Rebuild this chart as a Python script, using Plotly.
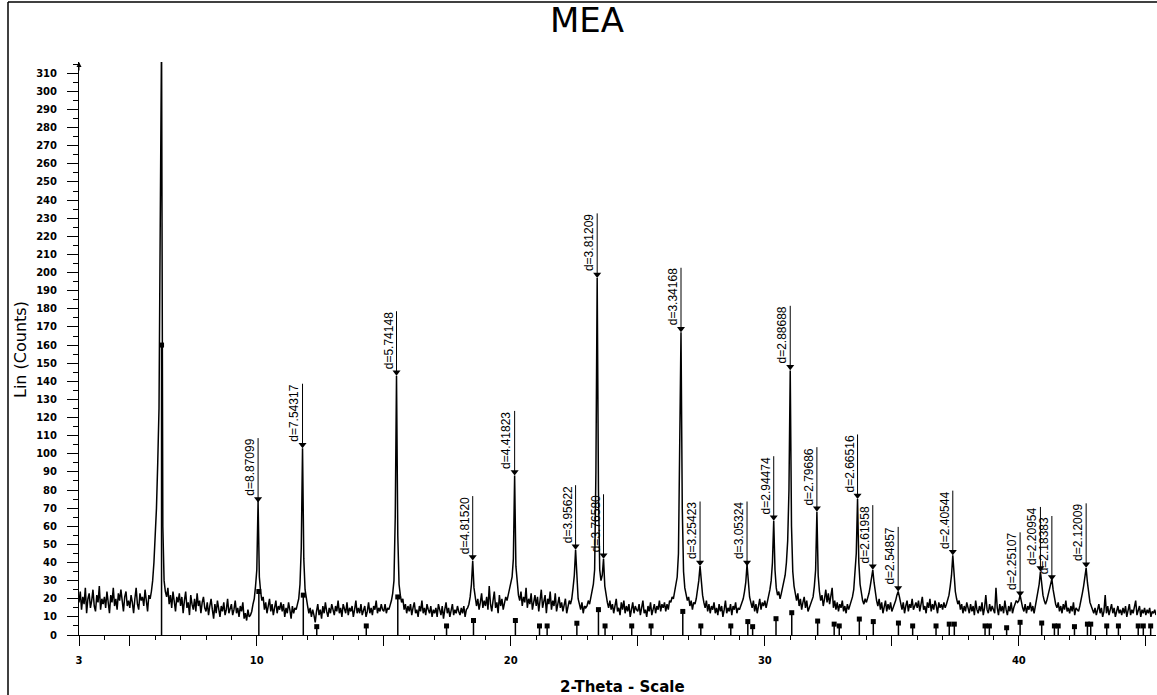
import plotly.graph_objects as go

# ---------------- data ----------------
scan_start_deg = 3.0
scan_step_deg = 0.05
counts = [
    18, 24, 14, 21, 17, 26, 12, 20, 23, 15, 19, 25, 16, 13, 22, 18, 27, 14, 20, 17,   # 3
    21, 15, 24, 19, 12, 22, 18, 26, 16, 20, 14, 23, 19, 25, 17, 13, 21, 24, 16, 19,   # 4
    15, 22, 18, 12, 20, 26, 17, 14, 23, 19, 21, 16, 25, 18, 13, 22, 20, 24, 30, 40,   # 5
    52, 70, 95, 125, 230, 330, 60, 30, 24, 21, 26, 17, 22, 15, 24, 19, 13, 21, 18, 23,  # 6
    16, 21, 12, 19, 24, 15, 18, 11, 22, 17, 14, 20, 13, 23, 16, 19, 12, 18, 21, 15,   # 7
    13, 18, 11, 16, 20, 14, 9, 17, 12, 19, 15, 10, 16, 13, 18, 11, 14, 20, 12, 15,    # 8
    17, 11, 14, 19, 12, 15, 10, 16, 13, 18, 9, 12, 8, 14, 10, 11, 13, 17, 20, 27,     # 9
    36, 74, 32, 24, 19, 21, 14, 18, 12, 16, 20, 13, 17, 11, 15, 19, 12, 16, 14, 18,   # 10
    13, 17, 10, 15, 12, 18, 14, 9, 16, 12, 15, 14, 17, 20, 28, 48, 103, 42, 25, 19,   # 11
    16, 12, 15, 10, 14, 11, 7, 13, 17, 11, 14, 9, 16, 12, 18, 13, 10, 15, 12, 17,     # 12
    14, 11, 16, 13, 19, 12, 15, 10, 17, 14, 12, 18, 11, 15, 13, 16, 10, 14, 19, 12,   # 13
    15, 12, 17, 11, 14, 16, 10, 13, 18, 12, 15, 11, 16, 14, 19, 12, 15, 13, 17, 14,   # 14
    13, 17, 12, 15, 14, 16, 19, 23, 30, 65, 143, 55, 28, 22, 18, 20, 14, 17, 12, 16,  # 15
    13, 17, 11, 15, 18, 12, 14, 10, 16, 13, 19, 12, 15, 11, 17, 14, 12, 16, 10, 14,   # 16
    12, 15, 10, 17, 13, 11, 16, 9, 14, 18, 12, 15, 10, 13, 17, 11, 14, 12, 16, 13,    # 17
    11, 15, 12, 16, 10, 14, 15, 17, 21, 28, 41, 26, 19, 16, 20, 14, 18, 23, 15, 19,   # 18
    16, 21, 14, 27, 17, 13, 19, 24, 15, 18, 12, 22, 16, 20, 14, 17, 21, 19, 22, 26,   # 19
    28, 32, 42, 88, 38, 27, 22, 19, 24, 16, 21, 18, 26, 15, 20, 17, 23, 14, 19, 22,   # 20
    16, 21, 13, 19, 25, 15, 18, 22, 12, 20, 17, 24, 14, 19, 16, 23, 13, 18, 21, 15,   # 21
    18, 13, 16, 20, 12, 15, 19, 17, 20, 26, 33, 47, 29, 20, 17, 14, 18, 12, 16, 15,   # 22
    16, 19, 17, 21, 24, 28, 36, 90, 197, 80, 36, 30, 33, 42, 27, 21, 18, 15, 19, 14,  # 23
    17, 12, 16, 20, 13, 15, 11, 18, 14, 19, 12, 16, 13, 17, 10, 15, 18, 12, 16, 14,   # 24
    13, 17, 11, 15, 19, 12, 14, 10, 16, 13, 18, 11, 15, 17, 12, 16, 14, 19, 13, 17,   # 25
    15, 18, 13, 17, 14, 19, 18, 21, 20, 24, 27, 32, 45, 95, 167, 70, 35, 26, 22, 19,  # 26
    21, 16, 19, 14, 18, 17, 20, 24, 30, 38, 28, 22, 18, 15, 19, 13, 17, 12, 16, 14,   # 27
    18, 12, 15, 11, 17, 13, 16, 10, 14, 19, 12, 15, 13, 17, 11, 16, 14, 18, 12, 15,   # 28
    14, 16, 17, 20, 24, 29, 39, 27, 21, 18, 15, 19, 13, 17, 12, 16, 20, 14, 18, 16,   # 29
    19, 15, 18, 21, 25, 30, 40, 63, 36, 26, 22, 24, 20, 23, 26, 29, 33, 40, 52, 80,   # 30
    146, 60, 35, 27, 22, 19, 23, 16, 20, 14, 18, 21, 15, 19, 13, 15, 17, 18, 21, 27,  # 31
    36, 68, 33, 24, 19, 22, 16, 20, 25, 18, 23, 17, 21, 26, 15, 19, 14, 18, 13, 17,   # 32
    15, 19, 13, 16, 12, 17, 14, 16, 18, 21, 25, 33, 45, 75, 40, 28, 22, 19, 17, 20,   # 33
    18, 20, 23, 27, 31, 36, 29, 23, 19, 16, 20, 14, 18, 12, 16, 19, 13, 17, 14, 18,   # 34
    13, 15, 16, 19, 22, 24, 21, 18, 14, 18, 12, 16, 19, 13, 17, 15, 20, 14, 16, 18,   # 35
    15, 19, 13, 17, 21, 14, 16, 12, 18, 15, 20, 13, 17, 14, 19, 16, 12, 18, 15, 17,   # 36
    14, 18, 15, 17, 19, 22, 27, 33, 44, 30, 24, 20, 17, 19, 14, 17, 12, 16, 13, 18,   # 37
    15, 12, 17, 13, 16, 11, 19, 14, 12, 16, 13, 18, 11, 15, 22, 14, 12, 17, 13, 16,   # 38
    14, 12, 26, 15, 11, 17, 13, 16, 12, 19, 14, 11, 16, 13, 18, 12, 15, 17, 19, 18,   # 39
    19, 22, 18, 15, 13, 17, 12, 16, 14, 18, 13, 16, 12, 17, 20, 24, 28, 35, 27, 22,   # 40
    19, 17, 19, 22, 25, 28, 31, 25, 20, 17, 15, 18, 13, 16, 12, 17, 14, 19, 13, 15,   # 41
    12, 16, 13, 18, 11, 15, 14, 13, 16, 19, 23, 27, 32, 37, 29, 23, 18, 16, 14, 12,   # 42
    15, 11, 14, 17, 12, 15, 10, 13, 22, 12, 16, 11, 14, 17, 12, 15, 10, 13, 16, 12,   # 43
    14, 11, 15, 12, 16, 10, 13, 17, 11, 14, 12, 15, 19, 11, 13, 16, 10, 14, 12, 15,   # 44
    11, 14, 12, 15, 10, 13, 12, 14, 11,                                               # 45
]
two_theta = [round(scan_start_deg + i * scan_step_deg, 2) for i in range(len(counts))]

peak_two_theta = [10.05, 11.80, 15.50, 18.50, 20.15, 22.55, 23.40, 23.65, 26.70, 27.45, 29.30,
                  30.35, 31.00, 32.05, 33.65, 34.25, 35.25, 37.40, 40.05, 40.85, 41.30, 42.65]
peak_marker_counts = [75, 105, 145, 43, 90, 49, 199, 44, 169, 40, 40,
                      65, 148, 70, 77, 38, 26, 46, 23, 37, 32, 39]
peak_labels = ["d=8.87099", "d=7.54317", "d=5.74148", "d=4.81520", "d=4.41823", "d=3.95622",
               "d=3.81209", "d=3.76580", "d=3.34168", "d=3.25423", "d=3.05324", "d=2.94474",
               "d=2.88688", "d=2.79686", "d=2.66516", "d=2.61958", "d=2.54857", "d=2.40544",
               "d=2.25107", "d=2.20954", "d=2.18383", "d=2.12009"]

stick_two_theta = [6.25, 10.08, 11.83, 12.36, 14.31, 15.55, 17.47, 18.53, 20.18, 21.13, 21.43,
                   22.60, 23.45, 23.71, 24.76, 25.52, 26.77, 27.48, 28.66, 29.33, 29.52, 30.44,
                   31.06, 32.08, 32.73, 32.93, 33.72, 34.27, 35.26, 35.82, 36.74, 37.26, 37.46,
                   38.67, 38.84, 39.52, 40.05, 40.90, 41.40, 41.55, 42.19, 42.70, 42.83, 43.46,
                   43.92, 44.70, 44.90, 45.19]
stick_counts = [160, 24, 22, 4.6, 5, 21, 5, 8, 8, 5, 5,
                6.5, 14, 5, 5, 5, 13, 5, 5, 7.4, 4.6, 9,
                12.3, 7.7, 6, 5, 8.8, 7.4, 6.6, 5, 5, 6, 6,
                5, 5, 4, 7, 6.6, 5, 5, 4.6, 6, 6, 5,
                5, 5, 5, 5]

x_tick_vals = [3, 5, 10, 15, 20, 25, 30, 35, 40, 45]
x_tick_text = ["3", "", "10", "", "20", "", "30", "", "40", ""]

# ---------------- geometry / style ----------------
W, H = 1157, 695
ML, MR, MT, MB = 79, 1, 62, 60
X_RANGE = [3.0, 45.4]
Y_RANGE = [0, 316.2]
plot_w = W - ML - MR
plot_h = H - MT - MB
px_per_count = plot_h / (Y_RANGE[1] - Y_RANGE[0])
label_line_counts = 61 / px_per_count

def px_to_paper_x(px):
    return (px - ML) / plot_w

def px_to_paper_y(py):
    return (H - MB - py) / plot_h

TICK_FONT = dict(family="DejaVu Sans", size=10, color="black", weight="bold")

fig = go.Figure()

# scan
fig.add_trace(go.Scatter(x=two_theta, y=counts, mode="lines",
                         line=dict(color="black", width=1.5), hoverinfo="skip"))

# reference sticks
sx, sy = [], []
for t, c in zip(stick_two_theta, stick_counts):
    sx += [t, t, None]
    sy += [0, c, None]
fig.add_trace(go.Scatter(x=sx, y=sy, mode="lines", line=dict(color="black", width=1.5),
                         hoverinfo="skip"))
fig.add_trace(go.Scatter(x=stick_two_theta, y=stick_counts, mode="markers",
                         marker=dict(symbol="square", size=5, color="black"), hoverinfo="skip"))

# peak label lines + triangles
lx, ly = [], []
for t, c in zip(peak_two_theta, peak_marker_counts):
    lx += [t, t, None]
    ly += [c, c + label_line_counts, None]
fig.add_trace(go.Scatter(x=lx, y=ly, mode="lines", line=dict(color="black", width=1),
                         hoverinfo="skip"))
fig.add_trace(go.Scatter(x=peak_two_theta, y=peak_marker_counts, mode="markers",
                         marker=dict(symbol="triangle-down", size=7, color="black"),
                         hoverinfo="skip"))

annotations = []
for t, c, lab in zip(peak_two_theta, peak_marker_counts, peak_labels):
    annotations.append(dict(x=t, y=c + label_line_counts, xref="x", yref="y", text=lab,
                            showarrow=False, textangle=-90, xanchor="right", yanchor="top",
                            xshift=0, borderpad=0,
                            font=dict(family="Liberation Sans, Arial", size=12, color="black")))

# titles
annotations.append(dict(x=px_to_paper_x(587), y=px_to_paper_y(20), xref="paper", yref="paper",
                        text="MEA", showarrow=False, xanchor="center", yanchor="middle",
                        font=dict(family="DejaVu Sans", size=34, color="black")))
annotations.append(dict(x=px_to_paper_x(622), y=px_to_paper_y(687), xref="paper", yref="paper",
                        text="2-Theta - Scale", showarrow=False, xanchor="center", yanchor="middle",
                        font=dict(family="DejaVu Sans", size=15, color="black", weight="bold")))
annotations.append(dict(x=px_to_paper_x(20), y=px_to_paper_y(350), xref="paper", yref="paper",
                        text="Lin (Counts)", showarrow=False, textangle=-90,
                        xanchor="center", yanchor="middle",
                        font=dict(family="DejaVu Sans", size=16, color="black")))
# arrow head on top of the y axis
annotations.append(dict(x=X_RANGE[0], y=Y_RANGE[1], xref="x", yref="y", text="",
                        showarrow=True, ax=0, ay=10, arrowhead=2, arrowsize=1, arrowwidth=1,
                        arrowcolor="black"))

shapes = [
    dict(type="line", xref="paper", yref="paper", x0=px_to_paper_x(8), x1=px_to_paper_x(8),
         y0=px_to_paper_y(H), y1=px_to_paper_y(2), line=dict(color="black", width=1.5)),
    dict(type="line", xref="paper", yref="paper", x0=px_to_paper_x(8), x1=px_to_paper_x(W),
         y0=px_to_paper_y(2), y1=px_to_paper_y(2), line=dict(color="black", width=1.5)),
]

fig.update_layout(
    width=W, height=H, autosize=False,
    margin=dict(l=ML, r=MR, t=MT, b=MB, pad=0),
    paper_bgcolor="white", plot_bgcolor="white",
    showlegend=False,
    annotations=annotations,
    shapes=shapes,
    xaxis=dict(range=X_RANGE, showgrid=False, zeroline=False, showline=True,
               linecolor="black", linewidth=1, ticks="outside", tickmode="array",
               tickvals=x_tick_vals, ticktext=x_tick_text, ticklen=10, tickwidth=1,
               tickcolor="black", tickfont=TICK_FONT, ticklabelstandoff=6,
               minor=dict(tickmode="linear", tick0=0, dtick=1, ticks="outside",
                          ticklen=4, tickcolor="black", showgrid=False)),
    yaxis=dict(range=Y_RANGE, showgrid=False, zeroline=False, showline=True,
               linecolor="black", linewidth=1, ticks="outside", tickmode="linear",
               tick0=0, dtick=10, ticklen=11, tickwidth=1, tickcolor="black",
               tickfont=TICK_FONT, ticklabelstandoff=8,
               minor=dict(tickmode="linear", tick0=0, dtick=5, ticks="outside",
                          ticklen=5, tickcolor="black", showgrid=False)),
)

fig.write_html("out.html", config={"displayModeBar": False},
               post_script="document.body.style.margin='0';document.body.style.overflow='hidden';")
